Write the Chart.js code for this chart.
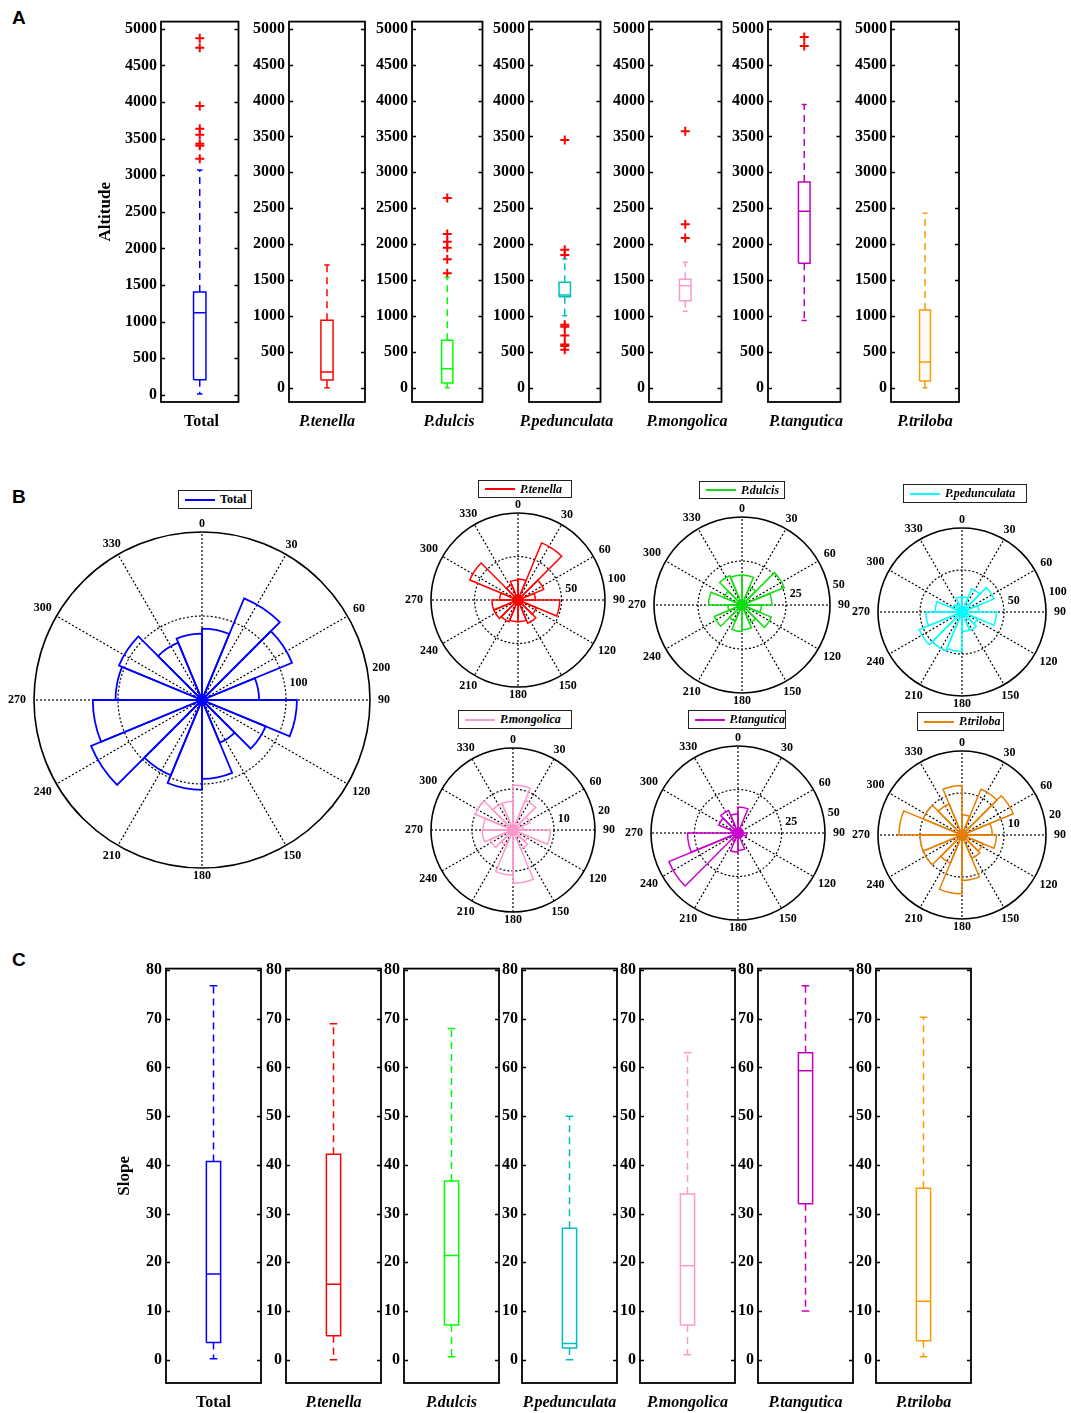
<!DOCTYPE html>
<html>
<head>
<meta charset="utf-8">
<script src="https://cdn.jsdelivr.net/npm/chart.js@4.4.1/dist/chart.umd.min.js"></script>
<style>
  body { margin: 0; background: #fff; width: 1071px; height: 1413px; position: relative; overflow: hidden; }
  canvas { position: absolute; }
  .letter { position: absolute; font: bold 19px 'Liberation Sans', Arial, sans-serif; }
  .lg { position: absolute; border: 1.5px solid #222; background: #fff; box-sizing: border-box;
        font: bold italic 12px 'Liberation Serif', serif; display: flex; align-items: center; padding-left: 6px; }
  .lg span.ln { display: inline-block; width: 30px; height: 2px; margin-right: 5px; }
  .cat { position: absolute; width: 160px; text-align: center; font: bold 16px 'Liberation Serif', serif; line-height: 18px; }
</style>
</head>
<body>
<div class="letter" style="left:12px;top:7px">A</div>
<div class="letter" style="left:12px;top:486px">B</div>
<div class="letter" style="left:12px;top:949px">C</div>
<script>
const species = ['Total', 'P.tenella', 'P.dulcis', 'P.pedunculata', 'P.mongolica', 'P.tangutica', 'P.triloba'];
const boxColors = ['#0000FF', '#FF0000', '#00FF00', '#00BFBF', '#FF99CC', '#BF00BF', '#FF9900'];
const roseColors = ['#0000FF', '#FF0000', '#11DD11', '#00FFFF', '#FF99CC', '#CC00CC', '#E67E00'];
const outlierColor = '#FF0000';

// A - altitude: lower whisker, Q1, median, Q3, upper whisker
const altLow  = [10, 0, 0, 1000, 1065, 935, 0];
const altQ1   = [203, 106, 65, 1266, 1211, 1733, 92];
const altMed  = [1119, 217, 263, 1290, 1419, 2458, 356];
const altQ3   = [1404, 938, 661, 1470, 1511, 2865, 1081];
const altHigh = [3070, 1710, 1534, 1793, 1747, 3946, 2431];
// altitude outliers
const altOutTotal = [4873, 4743, 3946, 3634, 3553, 3431, 3404, 3224];
const altOutTenella = [];
const altOutDulcis = [2643, 2140, 2033, 1950, 1788, 1594];
const altOutPedunculata = [3452, 1922, 1848, 878, 850, 725, 600, 580, 527];
const altOutMongolica = [3572, 2278, 2084];
const altOutTangutica = [4884, 4760];
const altOutTriloba = [];
const altOutliers = [altOutTotal, altOutTenella, altOutDulcis, altOutPedunculata, altOutMongolica, altOutTangutica, altOutTriloba];
const altTicks = [0, 500, 1000, 1500, 2000, 2500, 3000, 3500, 4000, 4500, 5000];

// B - aspect rose diagrams, 16 bins of 22.5 degrees clockwise from north
const angleLabels = ['0', '30', '60', '90', '120', '150', '180', '210', '240', '270', '300', '330'];
const roseTotal       = [85, 131, 116, 68, 113, 82, 55, 94, 107, 97, 143, 130, 103, 107, 74, 79];
const roseTenella     = [24, 71, 32, 20, 48, 23, 29, 25, 25, 27, 30, 30, 21, 60, 19, 23];
const roseDulcis      = [17, 11, 26, 17, 11, 18, 11, 14, 15, 10, 17, 8, 19, 11, 18, 17];
const rosePedunculata = [18, 30, 41, 20, 41, 20, 24, 23, 47, 50, 55, 43, 32, 12, 10, 18];
const roseMongolica   = [11, 7.8, 4.5, 2.5, 9.1, 4, 5, 13, 11, 4, 6, 7.5, 7.3, 10, 7, 7];
const roseTangutica   = [15, 3, 2, 3, 5, 3, 3, 10, 11, 5, 43, 29, 4, 12, 14, 11];
const roseTriloba     = [4.8, 11.8, 13.2, 7.2, 8.2, 5.4, 6, 10.8, 14, 7.2, 10, 10, 15, 10, 8, 11.8];
const roseData = [roseTotal, roseTenella, roseDulcis, rosePedunculata, roseMongolica, roseTangutica, roseTriloba];
const roseMax = [200, 100, 50, 100, 20, 50, 20];

// C - slope: lower whisker, Q1, median, Q3, upper whisker
const slopeLow  = [0.2, 0, 0.6, 0, 1, 10, 0.6];
const slopeQ1   = [3.5, 4.9, 7.1, 2.4, 7.1, 32, 3.9];
const slopeMed  = [17.6, 15.5, 21.4, 3.3, 19.3, 59.3, 12];
const slopeQ3   = [40.7, 42.2, 36.7, 27, 34, 63, 35.2];
const slopeHigh = [76.8, 69, 68, 50, 63, 76.8, 70.3];
const slopeTicks = [0, 10, 20, 30, 40, 50, 60, 70, 80];

Chart.defaults.font.family = "'Liberation Serif', 'Times New Roman', serif";
Chart.defaults.color = '#000';

function makeCanvas(left, top, w, h) {
  const c = document.createElement('canvas');
  c.width = w; c.height = h;
  c.style.left = left + 'px'; c.style.top = top + 'px';
  c.style.width = w + 'px'; c.style.height = h + 'px';
  document.body.appendChild(c);
  return c;
}

function catLabel(text, cx, cy, italic) {
  const d = document.createElement('div');
  d.className = 'cat';
  d.textContent = text;
  d.style.left = (cx - 80) + 'px';
  d.style.top = (cy - 9) + 'px';
  if (italic) d.style.fontStyle = 'italic';
  document.body.appendChild(d);
}

// frame round the plot area, with inward ticks on both sides
const framePlugin = {
  id: 'frame',
  afterDraw(chart) {
    const { ctx, chartArea: a } = chart;
    const y = chart.scales.y;
    ctx.save();
    ctx.strokeStyle = '#000';
    ctx.lineWidth = 1.3;
    y.ticks.forEach(t => {
      const py = Math.round(y.getPixelForValue(t.value)) + 0.5;
      ctx.beginPath();
      ctx.moveTo(a.left, py); ctx.lineTo(a.left + 4, py);
      ctx.moveTo(a.right, py); ctx.lineTo(a.right - 4, py);
      ctx.stroke();
    });
    ctx.lineWidth = 1.8;
    ctx.strokeRect(a.left, a.top, a.right - a.left, a.bottom - a.top);
    ctx.restore();
  }
};

function boxChart(o) {
  const col = o.color;
  const X = 1;
  const seg = (pts, extra) => Object.assign({
    data: pts, showLine: true, pointRadius: 0, borderColor: col, borderWidth: 1.5, fill: false
  }, extra || {});
  const datasets = [
    seg([{x: X - o.bw, y: o.q1}, {x: X + o.bw, y: o.q1}, {x: X + o.bw, y: o.q3}, {x: X - o.bw, y: o.q3}, {x: X - o.bw, y: o.q1}]),
    seg([{x: X - o.bw, y: o.med}, {x: X + o.bw, y: o.med}]),
    seg([{x: X, y: o.q3}, {x: X, y: o.high}], {borderDash: [7, 5]}),
    seg([{x: X, y: o.q1}, {x: X, y: o.low}], {borderDash: [7, 5]}),
    seg([{x: X - o.cw, y: o.high}, {x: X + o.cw, y: o.high}]),
    seg([{x: X - o.cw, y: o.low}, {x: X + o.cw, y: o.low}]),
    {
      data: o.out.map(v => ({x: X, y: v})), showLine: false, pointStyle: 'cross',
      pointRadius: 4.5, pointBorderWidth: 2, borderColor: outlierColor, backgroundColor: outlierColor
    }
  ];
  const c = makeCanvas(o.left, o.top, o.width, o.height);
  new Chart(c, {
    type: 'scatter',
    data: { datasets },
    options: {
      responsive: false, animation: false,
      layout: { padding: { top: o.padTop, right: 3, left: 0, bottom: 0 } },
      plugins: { legend: { display: false }, tooltip: { enabled: false } },
      scales: {
        x: {
          type: 'linear', min: 0, max: 2,
          ticks: { display: false }, grid: { display: false }, border: { display: false },
          afterFit: s => { s.height = o.xh; }
        },
        y: {
          min: o.min, max: o.max,
          afterBuildTicks: s => { s.ticks = o.ticks.map(v => ({ value: v })); },
          ticks: { font: { size: 16, weight: 'bold' }, padding: 4, callback: v => String(v) },
          grid: { display: false, drawTicks: false }, border: { display: false },
          title: { display: !!o.ytitle, text: o.ytitle || '', font: { size: 17, weight: 'bold' }, padding: { top: 10, bottom: 0 } },
          afterFit: s => { s.width = o.axisW; }
        }
      }
    },
    plugins: [framePlugin]
  });
  catLabel(o.name, o.left + o.axisW + (o.width - o.axisW - 3) / 2, o.labelY, o.italic);
}

// Panel A
const aLeft = [161, 289, 412, 529, 649, 768, 891];
const aRight = [242, 365, 486, 604, 725, 844, 959];
species.forEach((name, i) => {
  const axisW = i === 0 ? 76 : 46;
  boxChart({
    name, italic: i > 0, color: boxColors[i],
    low: altLow[i], q1: altQ1[i], med: altMed[i], q3: altQ3[i], high: altHigh[i], out: altOutliers[i],
    min: i === 0 ? -100 : -200, max: 5100, ticks: altTicks,
    ytitle: i === 0 ? 'Altitude' : null,
    left: aLeft[i] - axisW, top: 8, width: aRight[i] - aLeft[i] + axisW + 3, height: 432,
    padTop: 10, xh: 38, axisW, bw: 0.16, cw: 0.07, labelY: 421
  });
});

// Panel C
const cLeft = [166, 286, 404, 522, 640, 758, 876];
const cW = 95;
species.forEach((name, i) => {
  const axisW = i === 0 ? 62 : 32;
  boxChart({
    name, italic: i > 0, color: boxColors[i],
    low: slopeLow[i], q1: slopeQ1[i], med: slopeMed[i], q3: slopeQ3[i], high: slopeHigh[i], out: [],
    min: -4.8, max: 80.3, ticks: slopeTicks,
    ytitle: i === 0 ? 'Slope' : null,
    left: cLeft[i] - axisW, top: 955, width: cW + axisW + 3, height: 458,
    padTop: 10, xh: 30, axisW, bw: 0.15, cw: 0.08, labelY: 1402
  });
});

// Panel B - rose diagrams
const roseLabelPlugin = {
  id: 'roseLabels',
  afterDraw(chart, args, opts) {
    const s = chart.scales.r, ctx = chart.ctx;
    ctx.save();
    ctx.fillStyle = '#000';
    ctx.font = opts.font;
    ctx.textAlign = 'center';
    ctx.textBaseline = 'middle';
    chart.data.labels.forEach((lab, i) => {
      const ang = i * 30 * Math.PI / 180;
      const w = ctx.measureText(lab).width;
      const p = s.getPointPosition(i, s.drawingArea + opts.gap + Math.abs(Math.sin(ang)) * w / 2);
      ctx.fillText(lab, p.x, p.y);
    });
    s.ticks.forEach(t => {
      if (t.value <= 0) return;
      const w = ctx.measureText(String(t.value)).width;
      const p = s.getPointPosition(opts.tickAngle / 30, s.getDistanceFromCenterForValue(t.value) + 5 + w / 2);
      ctx.fillText(String(t.value), p.x, p.y);
    });
    ctx.restore();
  }
};

const roseCx = [202, 518, 742, 962, 513, 738, 962];
const roseCy = [700, 600, 605, 612, 830, 833, 835];
const roseR  = [168, 87, 88, 84, 82, 87, 84];
species.forEach((name, i) => {
  const R = roseR[i], pad = i === 0 ? 40 : 34;
  const M = roseMax[i];
  const c = makeCanvas(roseCx[i] - R - pad, roseCy[i] - R - pad, 2 * (R + pad), 2 * (R + pad));
  new Chart(c, {
    type: 'polarArea',
    data: {
      labels: angleLabels,
      datasets: [{
        data: roseData[i], backgroundColor: 'rgba(0,0,0,0)', borderColor: roseColors[i],
        borderWidth: i === 0 ? 1.8 : 1.5, borderJoinStyle: 'miter'
      }]
    },
    options: {
      responsive: false, animation: false,
      layout: { padding: pad },
      plugins: {
        legend: { display: false }, tooltip: { enabled: false },
        roseLabels: { font: "bold 12px 'Liberation Serif'", gap: 8, tickAngle: i === 0 ? 80 : 78 }
      },
      scales: {
        r: {
          min: 0, max: M, startAngle: 0,
          ticks: { display: false, stepSize: M / 2 },
          pointLabels: { display: false },
          grid: { circular: true, color: '#000', lineWidth: ctx => (ctx.tick && ctx.tick.value === M) ? 1.6 : 1.2 },
          border: { dash: ctx => (ctx.tick && ctx.tick.value === M) ? [] : [2, 2] },
          angleLines: { display: true, color: '#000', lineWidth: 1.2, borderDash: [2, 2] }
        }
      }
    },
    plugins: [roseLabelPlugin]
  });
});

// rose legends
const lgBox = [[178, 490, 74, 19], [478, 480, 94, 18], [699, 481, 86, 18], [903, 484, 124, 19],
               [458, 710, 114, 19], [688, 710, 98, 19], [917, 712, 87, 19]];
species.forEach((name, i) => {
  const d = document.createElement('div');
  d.className = 'lg';
  const [l, t, w, h] = lgBox[i];
  d.style.left = l + 'px'; d.style.top = t + 'px'; d.style.width = w + 'px'; d.style.height = h + 'px';
  if (i === 0) d.style.fontStyle = 'normal';
  const ln = document.createElement('span');
  ln.className = 'ln'; ln.style.background = roseColors[i];
  d.appendChild(ln);
  d.appendChild(document.createTextNode(name));
  document.body.appendChild(d);
});
</script>
</body>
</html>
